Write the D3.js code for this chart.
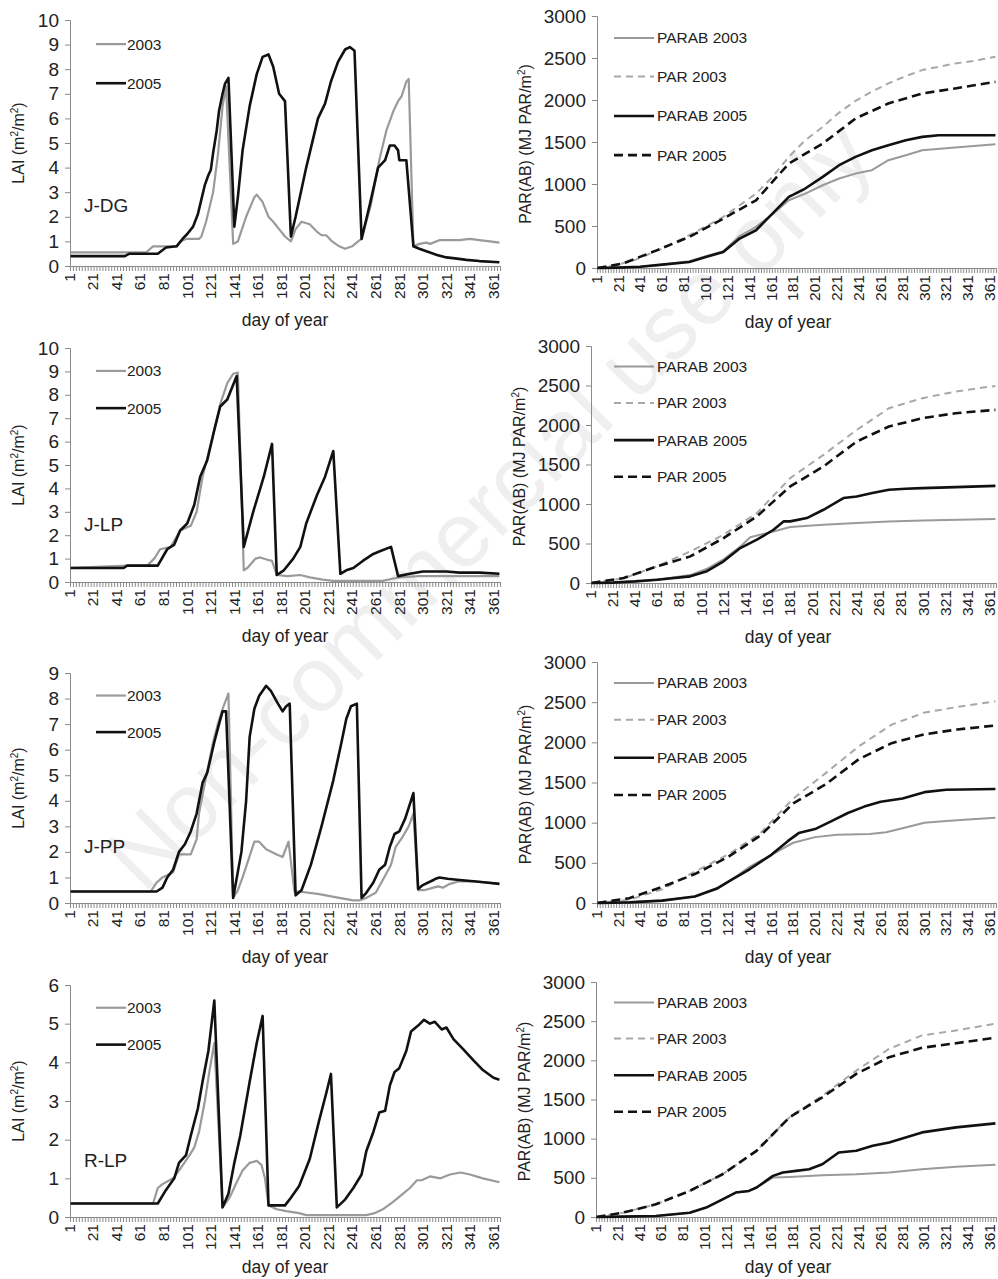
<!DOCTYPE html>
<html>
<head>
<meta charset="utf-8">
<script src="https://cdn.jsdelivr.net/npm/d3@7"></script>
<style>
  body { margin: 0; background: #fff; }
  text { font-family: "Liberation Sans", Arial, sans-serif; fill: #222; }
</style>
</head>
<body>
<div id="fig"></div>
<script>
// ---- LAI series, [day of year, LAI] ----
var jdg03 = [[1,0.55],[65,0.55],[71,0.8],[91,0.8],[94,1.0],[99,1.1],[110,1.1],[112,1.2],[116,1.8],[122,3.0],[126,4.5],[130,6.5],[133,7.3],[139,0.9],[143,1.0],[150,2.0],[157,2.8],[159,2.9],[164,2.6],[169,2.0],[173,1.8],[178,1.5],[183,1.2],[188,1.0],[192,1.5],[197,1.8],[204,1.7],[210,1.4],[214,1.25],[218,1.25],[223,1.0],[229,0.8],[234,0.7],[240,0.8],[245,1.0],[248,1.1],[256,2.5],[263,4.3],[269,5.5],[275,6.3],[279,6.7],[282,6.9],[286,7.5],[288,7.6],[292,0.8],[297,0.9],[303,0.95],[306,0.9],[314,1.05],[320,1.05],[331,1.05],[340,1.1],[348,1.05],[357,1.0],[365,0.95]];
var jdg05 = [[1,0.4],[47,0.4],[51,0.5],[75,0.5],[82,0.75],[91,0.8],[96,1.1],[100,1.3],[105,1.6],[109,2.1],[112,2.7],[115,3.3],[118,3.7],[120,3.9],[122,4.6],[125,5.5],[127,6.3],[130,7.0],[132,7.4],[135,7.65],[140,1.6],[143,2.8],[147,4.7],[153,6.5],[159,7.8],[164,8.5],[169,8.6],[173,8.1],[178,7.0],[183,6.7],[188,1.2],[192,2.0],[201,4.0],[211,6.0],[217,6.6],[222,7.5],[228,8.3],[234,8.8],[238,8.9],[242,8.75],[248,1.1],[255,2.5],[262,4.0],[268,4.3],[272,4.9],[276,4.9],[279,4.7],[280,4.3],[286,4.3],[292,0.8],[297,0.7],[306,0.55],[312,0.45],[320,0.35],[329,0.3],[337,0.25],[348,0.2],[365,0.15]];

var jlp03 = [[1,0.6],[50,0.7],[66,0.7],[72,1.0],[77,1.4],[86,1.5],[94,2.2],[103,2.4],[108,3.0],[113,4.5],[123,6.5],[128,7.6],[134,8.5],[139,8.9],[143,8.95],[148,0.5],[151,0.6],[158,1.0],[162,1.05],[168,0.95],[172,0.9],[176,0.3],[185,0.25],[196,0.3],[204,0.2],[215,0.1],[224,0.05],[252,0.05],[266,0.05],[275,0.15],[280,0.2],[297,0.25],[365,0.25]];
var jlp05 = [[1,0.6],[46,0.6],[49,0.7],[75,0.7],[83,1.4],[89,1.6],[94,2.2],[100,2.5],[106,3.3],[111,4.5],[117,5.2],[123,6.5],[128,7.5],[134,7.8],[138,8.3],[142,8.8],[148,1.5],[156,3.0],[165,4.5],[172,5.9],[176,0.3],[182,0.5],[190,1.0],[196,1.5],[201,2.5],[210,3.7],[217,4.5],[224,5.6],[230,0.35],[235,0.5],[241,0.6],[249,0.9],[258,1.2],[263,1.3],[273,1.5],[279,0.25],[289,0.35],[300,0.45],[320,0.45],[331,0.4],[348,0.4],[365,0.35]];

var jpp03 = [[1,0.45],[69,0.45],[74,0.8],[79,1.0],[88,1.2],[93,1.9],[103,1.9],[108,2.5],[110,3.5],[115,4.7],[122,6.3],[126,7.0],[130,7.6],[135,8.2],[139,0.2],[143,0.5],[147,1.0],[152,1.7],[157,2.4],[161,2.4],[167,2.1],[176,1.9],[181,1.8],[186,2.4],[191,0.45],[195,0.45],[212,0.35],[229,0.2],[241,0.1],[246,0.1],[252,0.2],[260,0.4],[266,0.9],[273,1.5],[277,2.2],[283,2.6],[288,3.0],[292,3.5],[296,0.5],[301,0.5],[309,0.6],[313,0.65],[317,0.6],[323,0.75],[331,0.85],[343,0.85],[354,0.8],[365,0.75]];
var jpp05 = [[1,0.45],[74,0.45],[79,0.6],[83,1.0],[88,1.3],[93,2.0],[98,2.3],[103,2.8],[108,3.5],[113,4.7],[117,5.1],[123,6.3],[127,7.0],[130,7.5],[133,7.5],[139,0.2],[146,2.0],[150,4.0],[153,6.5],[157,7.6],[161,8.1],[167,8.5],[171,8.3],[177,7.8],[181,7.5],[184,7.7],[187,7.8],[192,0.3],[197,0.5],[201,1.0],[205,1.5],[214,3.0],[224,4.8],[231,6.3],[235,7.2],[239,7.7],[244,7.8],[248,0.2],[252,0.4],[258,0.8],[263,1.3],[268,1.5],[272,2.2],[276,2.7],[280,2.8],[285,3.3],[292,4.3],[296,0.55],[300,0.7],[309,0.9],[311,0.95],[314,1.0],[321,0.95],[331,0.9],[343,0.85],[354,0.8],[365,0.75]];

var rlp03 = [[1,0.35],[71,0.35],[75,0.75],[79,0.85],[88,1.0],[93,1.2],[102,1.6],[106,1.8],[110,2.2],[115,3.0],[119,3.8],[123,4.5],[130,0.25],[136,0.5],[142,0.9],[147,1.2],[153,1.4],[159,1.45],[163,1.35],[166,1.0],[169,0.3],[176,0.2],[184,0.15],[195,0.1],[201,0.05],[224,0.05],[238,0.05],[252,0.05],[259,0.1],[266,0.2],[275,0.4],[283,0.6],[289,0.75],[295,0.95],[299,0.95],[306,1.05],[315,1.0],[323,1.1],[332,1.15],[340,1.1],[351,1.0],[365,0.9]];
var rlp05 = [[1,0.35],[75,0.35],[82,0.7],[89,1.0],[93,1.4],[99,1.6],[103,2.1],[109,2.8],[113,3.5],[118,4.3],[123,5.6],[130,0.25],[135,0.6],[140,1.4],[145,2.1],[153,3.5],[159,4.5],[164,5.2],[169,0.3],[176,0.3],[183,0.3],[188,0.5],[195,0.8],[204,1.5],[212,2.5],[218,3.2],[222,3.7],[227,0.25],[234,0.45],[241,0.75],[248,1.1],[252,1.7],[258,2.2],[263,2.7],[268,2.75],[272,3.4],[276,3.75],[280,3.85],[286,4.3],[290,4.8],[296,4.95],[301,5.1],[306,5.0],[310,5.05],[316,4.85],[320,4.9],[326,4.6],[334,4.35],[343,4.05],[351,3.8],[360,3.6],[365,3.55]];

// ---- cumulative PAR series, [day of year, MJ PAR/m2] ----
var jdgParab03 = [[1,0],[20,5],[40,15],[60,40],[85,80],[100,140],[116,200],[131,380],[146,490],[161,640],[176,806],[191,886],[207,985],[222,1065],[237,1124],[252,1164],[267,1283],[283,1343],[298,1402],[328,1434],[365,1474]];
var jdgPar03 = [[1,0],[20,40],[36,100],[60,230],[85,390],[116,608],[146,886],[161,1085],[176,1323],[191,1522],[207,1680],[222,1850],[237,1990],[252,2100],[267,2197],[283,2285],[298,2356],[313,2395],[328,2435],[343,2460],[365,2515]];
var jdgParab05 = [[1,0],[20,5],[40,15],[60,40],[85,72],[100,131],[116,190],[131,350],[146,449],[161,648],[176,846],[191,946],[207,1085],[222,1224],[237,1323],[252,1402],[267,1462],[283,1522],[298,1561],[313,1581],[365,1581]];
var jdgPar05 = [[1,0],[24,52],[55,210],[85,370],[116,588],[146,806],[176,1244],[207,1482],[237,1780],[267,1959],[298,2078],[328,2137],[365,2217]];

var jlpParab03 = [[1,0],[20,5],[40,20],[60,42],[90,100],[105,180],[120,300],[135,460],[144,580],[165,653],[180,708],[210,737],[240,758],[269,780],[299,792],[365,809]];
var jlpPar03 = [[1,0],[30,60],[60,211],[90,400],[120,611],[150,885],[180,1327],[210,1622],[240,1938],[269,2212],[299,2339],[329,2423],[365,2495]];
var jlpParab05 = [[1,0],[20,5],[40,20],[60,42],[90,84],[105,150],[120,274],[135,442],[150,548],[165,674],[174,780],[180,780],[195,822],[210,927],[228,1075],[240,1096],[254,1138],[269,1180],[284,1193],[299,1201],[329,1214],[365,1230]];
var jlpPar05 = [[1,0],[30,63],[60,211],[90,337],[120,569],[150,843],[180,1222],[210,1475],[240,1791],[269,1981],[299,2086],[329,2149],[365,2191]];

var jppParab03 = [[1,0],[30,8],[60,30],[90,80],[110,170],[130,350],[140,450],[160,600],[180,750],[200,820],[220,850],[250,860],[265,880],[280,930],[300,1000],[320,1020],[340,1040],[365,1060]];
var jppPar03 = [[1,0],[30,40],[60,170],[90,390],[120,600],[150,870],[180,1300],[210,1620],[240,1950],[270,2220],[300,2370],[330,2440],[365,2510]];
var jppParab05 = [[1,0],[30,8],[60,30],[90,80],[110,180],[125,300],[140,420],[160,600],[175,770],[185,870],[200,920],[215,1020],[230,1120],[245,1200],[260,1260],[280,1300],[300,1380],[320,1410],[365,1420]];
var jppPar05 = [[1,0],[30,60],[60,200],[90,360],[120,570],[150,840],[180,1240],[210,1480],[240,1790],[270,1990],[300,2100],[330,2160],[365,2210]];

var rlpParab03 = [[1,0],[25,5],[55,13],[86,55],[101,120],[116,226],[128,312],[140,333],[147,376],[162,504],[170,508],[177,512],[207,533],[238,546],[268,568],[298,610],[329,640],[365,666]];
var rlpPar03 = [[1,0],[25,55],[55,162],[86,333],[116,546],[147,845],[177,1272],[207,1549],[238,1869],[268,2147],[298,2318],[329,2382],[365,2467]];
var rlpParab05 = [[1,0],[25,5],[55,13],[86,55],[101,120],[116,226],[128,312],[140,333],[147,376],[162,525],[171,568],[183,589],[195,610],[207,674],[222,824],[238,845],[253,909],[268,952],[283,1016],[298,1080],[329,1144],[365,1195]];
var rlpPar05 = [[1,0],[25,55],[55,162],[86,333],[116,546],[147,845],[177,1272],[207,1528],[238,1827],[268,2040],[298,2160],[329,2219],[365,2288]];

// ---- axes ----
var dayLabels = d3.range(1, 362, 20);
var dayTicks = d3.range(0.5, 366, 2.5);
var laiTicks10 = d3.range(0, 11, 1);
var laiTicks9 = d3.range(0, 10, 1);
var laiTicks6 = d3.range(0, 7, 1);
var parTicks = d3.range(0, 3001, 500);
var laiLegend = ['2003', '2005'];
var parLegend = ['PARAB 2003', 'PAR 2003', 'PARAB 2005', 'PAR 2005'];

const W = 998, H = 1279;
const GREY = '#9a9a9a', BLACK = '#111';

var svg = d3.select('#fig').append('svg')
    .attr('width', W).attr('height', H);

// faint watermark behind everything
svg.append('text')
    .attr('transform', 'translate(488,505) rotate(-45)')
    .attr('text-anchor', 'middle')
    .attr('dy', '0.35em')
    .style('font-size', '92px')
    .style('fill', '#efefef')
    .text('Non-commercial use only');

var laiPanels = [
    {name:'J-DG', s03:jdg03, s05:jdg05, ticks:laiTicks10, top:20, bot:266},
    {name:'J-LP', s03:jlp03, s05:jlp05, ticks:laiTicks10, top:348, bot:582},
    {name:'J-PP', s03:jpp03, s05:jpp05, ticks:laiTicks9, top:673, bot:903},
    {name:'R-LP', s03:rlp03, s05:rlp05, ticks:laiTicks6, top:985, bot:1217}
];
var parPanels = [
    {s:[jdgParab03, jdgPar03, jdgParab05, jdgPar05], x0:597, top:16, bot:268},
    {s:[jlpParab03, jlpPar03, jlpParab05, jlpPar05], x0:591, top:346, bot:583},
    {s:[jppParab03, jppPar03, jppParab05, jppPar05], x0:597, top:662, bot:903},
    {s:[rlpParab03, rlpPar03, rlpParab05, rlpPar05], x0:596, top:982, bot:1217}
];

// line styles for the four PAR series, in legend order
var parStyles = [
    {stroke:GREY, width:2, dash:null},
    {stroke:'#a8a8a8', width:2, dash:'7,5'},
    {stroke:BLACK, width:2.6, dash:null},
    {stroke:BLACK, width:2.6, dash:'9,5'}
];
var laiStyles = [
    {stroke:GREY, width:2.2, dash:null},
    {stroke:BLACK, width:2.6, dash:null}
];

function dayAxis(g, x, yBot, titleX) {
    g.append('g')
        .attr('transform', 'translate(0,' + yBot + ')')
        .call(d3.axisBottom(x).tickValues(dayTicks).tickSize(5).tickFormat(''))
        .call(a => a.selectAll('line, path').attr('stroke', '#8a8a8a'));

    g.selectAll('.dlab')
        .data(dayLabels)
        .enter()
        .append('text')
        .attr('transform', d => 'translate(' + (x(d) - 1) + ',' + (yBot + 7) + ') rotate(-90)')
        .attr('text-anchor', 'end')
        .attr('dy', '0.33em')
        .style('font-size', '15.5px')
        .text(d => d);

    g.append('text')
        .attr('x', titleX)
        .attr('y', Math.min(yBot + 60, H - 6))
        .attr('text-anchor', 'middle')
        .style('font-size', '17.5px')
        .text('day of year');
}

function valueAxis(g, y, x0, ticks) {
    g.append('g')
        .attr('transform', 'translate(' + x0 + ',0)')
        .call(d3.axisLeft(y).tickValues(ticks).tickSize(5).tickPadding(6).tickFormat(d3.format('d')))
        .call(a => a.select('.domain').attr('stroke', '#8a8a8a'))
        .call(a => a.selectAll('line').attr('stroke', '#8a8a8a'))
        .call(a => a.selectAll('text').style('font-size', '19px')
            .style('font-family', '"Liberation Sans", Arial, sans-serif').attr('fill', '#222'));
}

function drawSeries(g, data, x, y, st) {
    var line = d3.line().x(d => x(d[0])).y(d => y(d[1]));
    g.append('path')
        .datum(data)
        .attr('d', line)
        .attr('fill', 'none')
        .attr('stroke', st.stroke)
        .attr('stroke-width', st.width)
        .attr('stroke-linejoin', 'round')
        .attr('stroke-dasharray', st.dash);
}

// ---- left column: LAI ----
laiPanels.forEach(function(p) {
    var g = svg.append('g');
    var x = d3.scaleLinear().domain([0.5, 365.5]).range([70, 500]);
    var ymax = d3.max(p.ticks);
    var y = d3.scaleLinear().domain([0, ymax]).range([p.bot, p.top]);
    var h = p.bot - p.top;

    valueAxis(g, y, 70, p.ticks);
    dayAxis(g, x, p.bot, 285);

    drawSeries(g, p.s03, x, y, laiStyles[0]);
    drawSeries(g, p.s05, x, y, laiStyles[1]);

    // legend
    laiLegend.forEach(function(name, i) {
        var ly = p.top + h * (i == 0 ? 0.098 : 0.257);
        g.append('line')
            .attr('x1', 96).attr('x2', 126).attr('y1', ly).attr('y2', ly)
            .attr('stroke', laiStyles[i].stroke).attr('stroke-width', laiStyles[i].width);
        g.append('text')
            .attr('x', 127).attr('y', ly).attr('dy', '0.35em')
            .style('font-size', '15.5px')
            .text(name);
    });

    g.append('text')
        .attr('x', 84).attr('y', p.bot - h * 0.245).attr('dy', '0.35em')
        .style('font-size', '19px')
        .text(p.name);

    var lab = g.append('text')
        .attr('transform', 'translate(24,' + (p.top + h / 2) + ') rotate(-90)')
        .attr('text-anchor', 'middle')
        .style('font-size', '16px');
    lab.append('tspan').text('LAI  (m');
    lab.append('tspan').attr('dy', -6).style('font-size', '10px').text('2');
    lab.append('tspan').attr('dy', 6).text('/m');
    lab.append('tspan').attr('dy', -6).style('font-size', '10px').text('2');
    lab.append('tspan').attr('dy', 6).text(')');
});

// ---- right column: cumulative PAR ----
parPanels.forEach(function(p) {
    var g = svg.append('g');
    var x = d3.scaleLinear().domain([0.5, 365.5]).range([p.x0, 996]);
    var y = d3.scaleLinear().domain([0, 3000]).range([p.bot, p.top]);
    var h = p.bot - p.top;

    valueAxis(g, y, p.x0, parTicks);
    dayAxis(g, x, p.bot, 788);

    p.s.forEach(function(s, i) { drawSeries(g, s, x, y, parStyles[i]); });

    var fr = [0.087, 0.24, 0.397, 0.552];
    parLegend.forEach(function(name, i) {
        var ly = p.top + h * fr[i];
        g.append('line')
            .attr('x1', 614).attr('x2', 654).attr('y1', ly).attr('y2', ly)
            .attr('stroke', parStyles[i].stroke).attr('stroke-width', parStyles[i].width)
            .attr('stroke-dasharray', parStyles[i].dash);
        g.append('text')
            .attr('x', 657).attr('y', ly).attr('dy', '0.35em')
            .style('font-size', '15.5px')
            .text(name);
    });

    var lab = g.append('text')
        .attr('transform', 'translate(' + (p.x0 - 66) + ',' + (p.top + h / 2 + 2) + ') rotate(-90)')
        .attr('text-anchor', 'middle')
        .style('font-size', '16px');
    lab.append('tspan').text('PAR(AB) (MJ PAR/m');
    lab.append('tspan').attr('dy', -6).style('font-size', '10px').text('2');
    lab.append('tspan').attr('dy', 6).text(')');
});
</script>
</body>
</html>
